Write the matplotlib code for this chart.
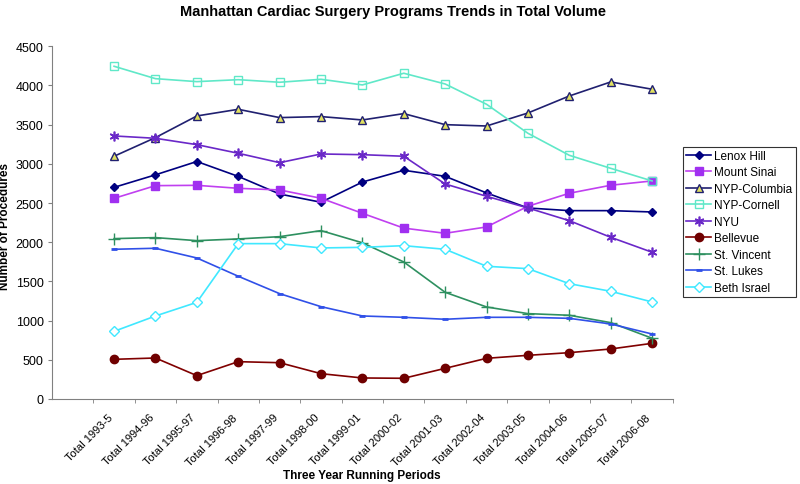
import matplotlib
matplotlib.use("Agg")
import matplotlib.pyplot as plt
import matplotlib.transforms as mtransforms
import numpy as np

plt.rcParams['font.family'] = ['Liberation Sans', 'DejaVu Sans']

periods = ["Total 1993-5", "Total 1994-96", "Total 1995-97", "Total 1996-98",
           "Total 1997-99", "Total 1998-00", "Total 1999-01", "Total 2000-02",
           "Total 2001-03", "Total 2002-04", "Total 2003-05", "Total 2004-06",
           "Total 2005-07", "Total 2006-08"]

lenox_hill = [2700, 2860, 3030, 2840, 2615, 2510, 2768, 2918, 2841, 2629, 2437, 2403, 2403, 2386]
mount_sinai = [2560, 2722, 2726, 2688, 2667, 2561, 2369, 2180, 2114, 2195, 2459, 2625, 2727, 2782]
nyp_columbia = [3097, 3335, 3611, 3696, 3590, 3603, 3560, 3641, 3500, 3483, 3649, 3866, 4045, 3952]
nyp_cornell = [4245, 4087, 4049, 4074, 4041, 4079, 4007, 4156, 4019, 3760, 3390, 3109, 2943, 2782]
nyu = [3356, 3326, 3245, 3135, 3015, 3126, 3117, 3097, 2743, 2586, 2437, 2275, 2063, 1872]
bellevue = [506, 523, 298, 476, 463, 323, 268, 264, 391, 519, 557, 591, 638, 710]
st_vincent = [2046, 2059, 2020, 2042, 2071, 2148, 1993, 1748, 1361, 1174, 1089, 1068, 974, 775]
st_lukes = [1910, 1923, 1799, 1566, 1344, 1178, 1059, 1042, 1017, 1042, 1042, 1029, 957, 829]
beth_israel = [863, 1059, 1233, 1982, 1982, 1927, 1935, 1956, 1910, 1693, 1663, 1471, 1374, 1238]

fig = plt.figure(figsize=(8.0, 4.85), dpi=100)
ax = fig.add_axes([0.065, 0.1753, 0.776, 0.7272])

x = np.arange(1, len(periods) + 1)

styles = [
    ("Lenox Hill", lenox_hill, dict(color='#000080', marker='D', ms=4.5, mfc='#000080', mec='#000080')),
    ("Mount Sinai", mount_sinai, dict(color='#C040F0', marker='s', ms=5.5, mfc='#A030F0', mec='#A030F0')),
    ("NYP-Columbia", nyp_columbia, dict(color='#202070', marker='^', ms=6, mfc='#E0E060', mec='#202070', mew=1.0)),
    ("NYP-Cornell", nyp_cornell, dict(color='#60E8C8', marker='s', ms=6, mfc='none', mec='#60E8C8', mew=1.0)),
    ("NYU", nyu, dict(color='#6A28C8', marker=(6, 2, 0), ms=7, mec='#6A28C8', mew=1.2)),
    ("Bellevue", bellevue, dict(color='#800000', marker='o', ms=6, mfc='#700000', mec='#700000')),
    ("St. Vincent", st_vincent, dict(color='#2E9060', marker='+', ms=8, mec='#2E9060', mew=1.0)),
    ("St. Lukes", st_lukes, dict(color='#3050E8', marker='_', ms=5, mec='#3050E8', mew=2.0)),
    ("Beth Israel", beth_israel, dict(color='#40E8FF', marker='D', ms=5, mfc='white', mec='#40E8FF', mew=1.0)),
]

for name, vals, st in styles:
    ax.plot(x, vals, label=name, lw=1.2, **st)

ax.set_xlim(-0.5, 14.5)
ax.set_ylim(0, 4500)
ax.set_yticks(np.arange(0, 4501, 500))
ax.set_xticks(x)
ax.set_xticklabels(periods, rotation=45, ha='right', va='center', rotation_mode='anchor', fontsize=8)
ax.tick_params(axis='x', which='major', length=0, pad=12)
offset = mtransforms.ScaledTranslation(-3 / 100, 0, fig.dpi_scale_trans)
for lbl in ax.get_xticklabels():
    lbl.set_transform(lbl.get_transform() + offset)
ax.set_xticks(np.arange(0.5, 15, 1), minor=True)
ax.tick_params(axis='x', which='minor', length=3, color='#808080', direction='out')
ax.tick_params(axis='y', length=3, color='#808080', labelsize=9, pad=3, direction='out')

for s in ['top', 'right']:
    ax.spines[s].set_visible(False)
for s in ['left', 'bottom']:
    ax.spines[s].set_color('#808080')

fig.text(5.5 / 800, 1 - 226 / 485, "Number of Procedures", rotation=90, fontsize=8.5,
         fontweight='bold', ha='center', va='center')
fig.text(362 / 800, 1 - 476 / 485, "Three Year Running Periods", fontsize=8.5,
         fontweight='bold', ha='center', va='center')
fig.text(393 / 800, 1 - 12 / 485, "Manhattan Cardiac Surgery Programs Trends in Total Volume",
         fontsize=10.5, fontweight='bold', ha='center', va='center')

leg = fig.legend(loc='upper left', bbox_to_anchor=(0.854, 0.695), bbox_transform=fig.transFigure,
                 fontsize=8.5, frameon=True, fancybox=False, edgecolor='black',
                 handlelength=2.1, handletextpad=0.3, labelspacing=0.38, borderpad=0.25,
                 borderaxespad=0)
leg.get_frame().set_linewidth(0.8)

fig.savefig("out.png", dpi=100)
